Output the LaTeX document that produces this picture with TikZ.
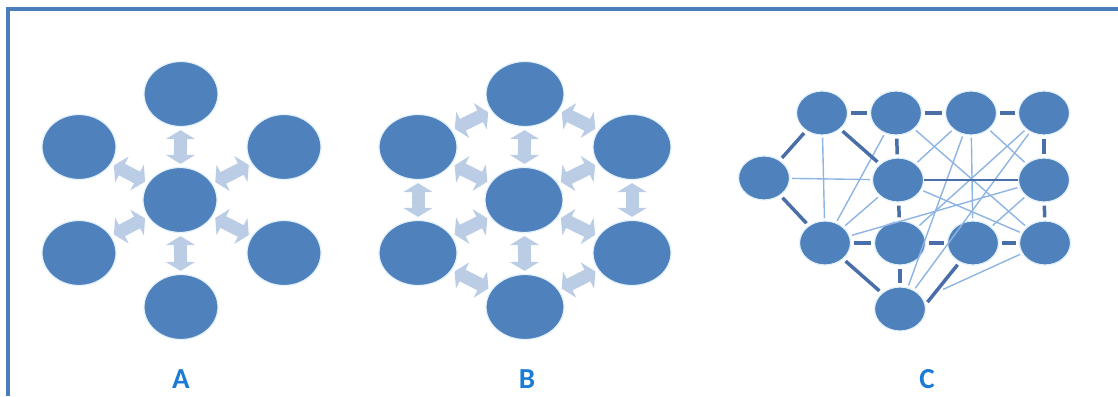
\documentclass[tikz,border=0pt]{standalone}
\usepackage{fontspec}
\setmainfont{Carlito}
\usetikzlibrary{shapes.geometric,arrows.meta}
\definecolor{nodeblue}{HTML}{4F81BD}
\definecolor{halo}{HTML}{E3F1FA}
\definecolor{arrowgrey}{HTML}{BACDE5}
\definecolor{linkdark}{HTML}{4A6FA8}
\definecolor{linklight}{HTML}{8DB4E2}
\definecolor{framecol}{HTML}{4A7EBB}
\definecolor{labelblue}{HTML}{1C7CD5}

\tikzset{
  blob/.style={ellipse,fill=nodeblue,draw=halo,line width=1.2pt,inner sep=0pt,
    minimum width=74pt,minimum height=65pt},
  wideblob/.style={blob,minimum width=78pt},
  smallblob/.style={blob,minimum width=51pt,minimum height=44pt},
  twoway/.style={arrowgrey,line width=13pt,shorten <=3pt,shorten >=3pt,
    {Triangle[length=9pt,width=29pt]}-{Triangle[length=9pt,width=29pt]}},
  strong/.style={linkdark,line width=3.5pt,shorten <=3pt,shorten >=3pt},
  weak/.style={linklight,line width=1.4pt,shorten <=2pt,shorten >=2pt},
  panel/.style={labelblue,font=\fontsize{29}{30}\selectfont\bfseries}
}

\begin{document}
\begin{tikzpicture}[x=1pt,y=-1pt]
  \useasboundingbox (0,0) rectangle (1118,396);
  \draw[framecol,line width=4pt] (8,396) -- (8,9) -- (1118,9);

  % A
  \node[blob] (At) at (181,94) {};
  \node[blob] (Aul) at (79,147) {};
  \node[blob] (Aur) at (284,147) {};
  \node[blob] (Ac) at (180,200) {};
  \node[blob] (All) at (79,253) {};
  \node[blob] (Alr) at (284,253) {};
  \node[blob] (Ab) at (181,307) {};
  \foreach \n in {At,Aul,Aur,All,Alr,Ab}
    \draw[twoway] (Ac) -- (\n);

  % B
  \node[wideblob] (Bt) at (525,94) {};
  \node[wideblob] (Bul) at (418,147) {};
  \node[wideblob] (Bur) at (632,147) {};
  \node[wideblob] (Bc) at (524,200) {};
  \node[wideblob] (Bll) at (418,253) {};
  \node[wideblob] (Blr) at (632,253) {};
  \node[wideblob] (Bb) at (525,307) {};
  \foreach \n in {Bt,Bul,Bur,Bll,Blr,Bb}
    \draw[twoway] (Bc) -- (\n);
  \foreach \a/\b in {Bt/Bul,Bt/Bur,Bul/Bll,Bur/Blr,Bll/Bb,Blr/Bb}
    \draw[twoway] (\a) -- (\b);

  % C
  \node[smallblob] (c1) at (822,113) {};
  \node[smallblob] (c2) at (896,113) {};
  \node[smallblob] (c3) at (971,113) {};
  \node[smallblob] (c4) at (1044,113) {};
  \node[smallblob] (cl) at (764,178) {};
  \node[smallblob] (cm) at (898,180) {};
  \node[smallblob] (cr) at (1044,180) {};
  \node[smallblob] (d1) at (825,243) {};
  \node[smallblob] (d2) at (900,243) {};
  \node[smallblob] (d3) at (973,243) {};
  \node[smallblob] (d4) at (1045,243) {};
  \node[smallblob] (cb) at (900,309) {};
  \foreach \a/\b in {cl/cm,c1/d1,c2/d1,c2/d4,c3/cm,c3/d3,c3/cb,c4/d2,c3/cr,
      cr/d1,cr/d3,cm/d4,d1/cm,cb/c4}
    \draw[weak] (\a) -- (\b);
  \draw[weak,shorten >=22pt] (d4) -- (cb);
  \foreach \a/\b in {c1/c2,c2/c3,c3/c4,c2/cm,c4/cr,cm/d2,cr/d4,d1/d2,d2/d3,
      d3/d4,d2/cb,cl/c1,cl/d1,c1/cm,d1/cb}
    \draw[strong] (\a) -- (\b);
  \draw[strong] (cb.10) -- (d3.235);
  \draw[linkdark,line width=2.5pt] (cm) -- (cr);

  \node[panel] (la) at (181,379) {A};
  \node[panel] (lb) at (527,379) {B};
  \node[panel] (lc) at (927,379) {C};
\end{tikzpicture}
\end{document}
